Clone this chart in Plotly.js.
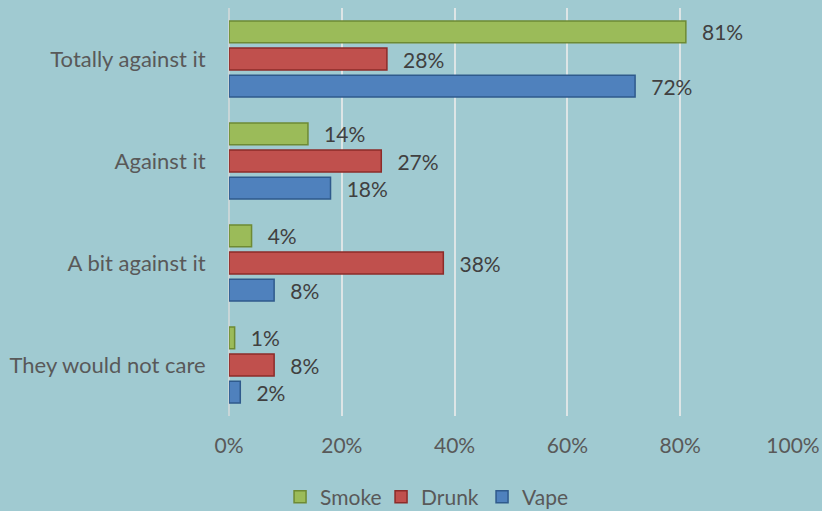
<!DOCTYPE html>
<html>
<head>
<meta charset="utf-8">
<script src="https://cdn.plot.ly/plotly-3.0.1.min.js"></script>
<style>html,body{margin:0;padding:0;background:#A0CAD1;}#chart{width:822px;height:511px;}</style>
</head>
<body>
<div id="chart"></div>
<script>
const categories = ["Totally against it", "Against it", "A bit against it", "They would not care"];
const smoke = [81, 14, 4, 1];
const drunk = [28, 27, 38, 8];
const vape = [72, 18, 8, 2];
const seriesNames = ["Smoke", "Drunk", "Vape"];
const tickVals = [0, 20, 40, 60, 80, 100];

const colors = ["#9BBB59", "#C0504D", "#4F81BD"];
const lines = ["#6E8A34", "#8C2B29", "#2F5A8C"];
const allVals = [smoke, drunk, vape];
const FONT = 'Lato, Open Sans, Liberation Sans, sans-serif';

const traces = allVals.map((vals, i) => ({
  type: 'bar',
  orientation: 'h',
  name: seriesNames[i],
  y: categories,
  x: vals,
  text: vals.map(v => v + '%'),
  texttemplate: '\u2002\u2009%{text}',
  textposition: 'outside',
  constraintext: 'none',
  cliponaxis: false,
  textfont: {family: FONT, size: 21, color: '#404040'},
  marker: {color: colors[i], line: {color: lines[i], width: 1.5}},
  hoverinfo: 'skip'
}));

const layout = {
  width: 822, height: 511,
  paper_bgcolor: '#A0CAD1',
  plot_bgcolor: '#A0CAD1',
  margin: {l: 229, r: 29, t: 8, b: 95},
  barmode: 'group',
  bargap: 0.2,
  bargroupgap: 0.2,
  font: {family: FONT, size: 21, color: '#595959'},
  xaxis: {
    range: [0, 100],
    tickvals: tickVals,
    ticktext: tickVals.map(v => v + '%'),
    showgrid: true,
    gridcolor: '#DDE5E6',
    gridwidth: 2,
    zeroline: true,
    zerolinecolor: '#C8D6D8',
    zerolinewidth: 2,
    ticks: 'outside',
    ticklen: 11,
    tickcolor: 'rgba(0,0,0,0)',
    tickfont: {family: FONT, size: 21, color: '#595959'},
    fixedrange: true,
    automargin: false
  },
  yaxis: {
    autorange: 'reversed',
    ticks: 'outside',
    ticklen: 18,
    tickcolor: 'rgba(0,0,0,0)',
    tickfont: {family: FONT, size: 22, color: '#595959'},
    showgrid: false,
    zeroline: false,
    showline: false,
    automargin: false
  },
  legend: {
    orientation: 'h',
    x: 0.525, xref: 'container', xanchor: 'center',
    y: 0.027, yref: 'container', yanchor: 'middle',
    font: {family: FONT, size: 21, color: '#595959'},
    itemwidth: 30,
    entrywidth: 56,
    traceorder: 'normal'
  },
  showlegend: true
};

Plotly.newPlot('chart', traces, layout, {displayModeBar: false, staticPlot: true});
</script>
</body>
</html>
